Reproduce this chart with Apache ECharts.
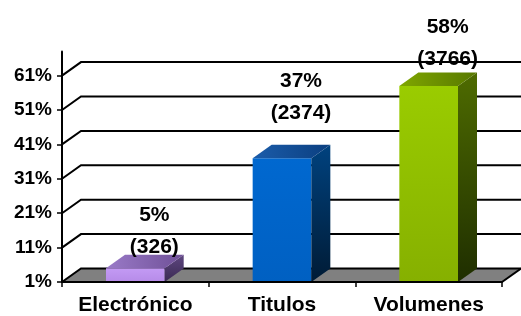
<!DOCTYPE html>
<html>
<head>
<meta charset="utf-8">
<script src="https://cdn.jsdelivr.net/npm/echarts@6/dist/echarts.min.js"></script>
<style>
html,body{margin:0;padding:0;background:#fff;}
#chart{width:521px;height:316px;}
</style>
</head>
<body>
<div id="chart"></div>
<script>
// ---- data ----
const categories = ['Electrónico', 'Titulos', 'Volumenes'];
const percentValues = [5, 37, 58];
const countValues = [326, 2374, 3766];
const yTickValues = [1, 11, 21, 31, 41, 51, 61];

// ---- style ----
const DX = 19, DY = -13.5;
const FONT = 'Liberation Sans, Arial, sans-serif';
const faceColors = [
  { front: ['#C39AF4', '#B68BE8'], top: ['#9A7AC8', '#6F5097'], side: ['#5E4680', '#3A2A52'] },
  { front: ['#0068D0', '#0060C2'], top: ['#1B5CAA', '#0B3F80'], side: ['#00427F', '#001B35'] },
  { front: ['#9ACC00', '#86B000'], top: ['#7FA600', '#587800'], side: ['#4E6B00', '#1F2E00'] }
];
const labelLift = [6, 29, 11];

function vgrad(c) {
  return new echarts.graphic.LinearGradient(0, 0, 0, 1, [
    { offset: 0, color: c[0] }, { offset: 1, color: c[1] }
  ]);
}

const chart = echarts.init(document.getElementById('chart'), null, { renderer: 'canvas' });

const option = {
  animation: false,
  backgroundColor: '#ffffff',
  grid: { left: 62, right: 19, top: 51.5, bottom: 33 },
  xAxis: {
    type: 'category',
    data: categories,
    boundaryGap: true,
    z: 5,
    axisLine: { show: true, lineStyle: { color: '#000', width: 2 } },
    axisTick: { show: true, interval: 0, length: 5, lineStyle: { color: '#000', width: 1.5 } },
    axisLabel: { interval: 0, margin: 13, color: '#000', fontWeight: 'bold', fontSize: 21, fontFamily: FONT },
    splitLine: { show: false }
  },
  yAxis: {
    type: 'value',
    min: 1,
    max: 68,
    z: 5,
    axisLine: { show: true, lineStyle: { color: '#000', width: 2 } },
    axisTick: { show: true, length: 5, customValues: yTickValues, lineStyle: { color: '#000', width: 1.5 } },
    axisLabel: {
      customValues: yTickValues, margin: 10, color: '#000', fontWeight: 'bold', fontSize: 19, fontFamily: FONT,
      formatter: v => v + '%'
    },
    splitLine: { show: false }
  },
  series: [
    {
      // floor
      type: 'custom',
      z: 1,
      silent: true,
      data: [[0, yTickValues[0]]],
      renderItem: function (params, api) {
        const cs = params.coordSys;
        const yb = api.coord([0, api.value(1)])[1];
        const l = cs.x, r = cs.x + cs.width;
        return {
          type: 'group',
          children: [
            { type: 'polygon', shape: { points: [[l, yb], [r, yb], [r + DX, yb + DY], [l + DX, yb + DY]] },
              style: { fill: '#808080' } },
            { type: 'line', shape: { x1: r, y1: yb, x2: r + DX, y2: yb + DY },
              style: { stroke: '#000', lineWidth: 2 } }
          ]
        };
      }
    },
    {
      // back wall + left wall gridlines
      type: 'custom',
      z: 2,
      silent: true,
      data: yTickValues.map(v => [0, v]),
      renderItem: function (params, api) {
        const cs = params.coordSys;
        const y = api.coord([0, api.value(1)])[1];
        const l = cs.x, r = cs.x + cs.width;
        return {
          type: 'polyline',
          shape: { points: [[l, y], [l + DX, y + DY], [r + DX, y + DY]] },
          style: { stroke: '#000', lineWidth: 2, fill: null }
        };
      }
    },
    {
      // 3D bars
      type: 'custom',
      z: 3,
      data: categories.map((c, i) => [i, percentValues[i], countValues[i]]),
      renderItem: function (params, api) {
        const i = api.value(0);
        const v = api.value(1);
        const cnt = api.value(2);
        const top = api.coord([i, v]);
        const base = api.coord([i, yTickValues[0]]);
        const band = api.size([1, 0])[0];
        const w = band * 0.4;
        const x0 = top[0] - w / 2, x1 = top[0] + w / 2;
        const yt = top[1], yb = base[1];
        const col = faceColors[i];
        const backTop = yt + DY;
        return {
          type: 'group',
          children: [
            { type: 'rect', shape: { x: x0, y: yt, width: w, height: yb - yt },
              style: { fill: vgrad(col.front) } },
            { type: 'polygon', shape: { points: [[x1, yt], [x1 + DX, yt + DY], [x1 + DX, yb + DY], [x1, yb]] },
              style: { fill: vgrad(col.side) } },
            { type: 'polygon', shape: { points: [[x0, yt], [x1, yt], [x1 + DX, yt + DY], [x0 + DX, yt + DY]] },
              style: { fill: new echarts.graphic.LinearGradient(0, 0, 1, 0, [
                { offset: 0, color: col.top[0] }, { offset: 1, color: col.top[1] }]) } },
            { type: 'text', z2: 10,
              style: {
                x: top[0] + DX, y: backTop - labelLift[i] + 14,
                text: v + '%\n(' + cnt + ')',
                align: 'center', verticalAlign: 'bottom',
                fontSize: 21, fontWeight: 'bold', fontFamily: FONT,
                lineHeight: 32, fill: '#000'
              } }
          ]
        };
      }
    }
  ]
};

chart.setOption(option);
</script>
</body>
</html>
